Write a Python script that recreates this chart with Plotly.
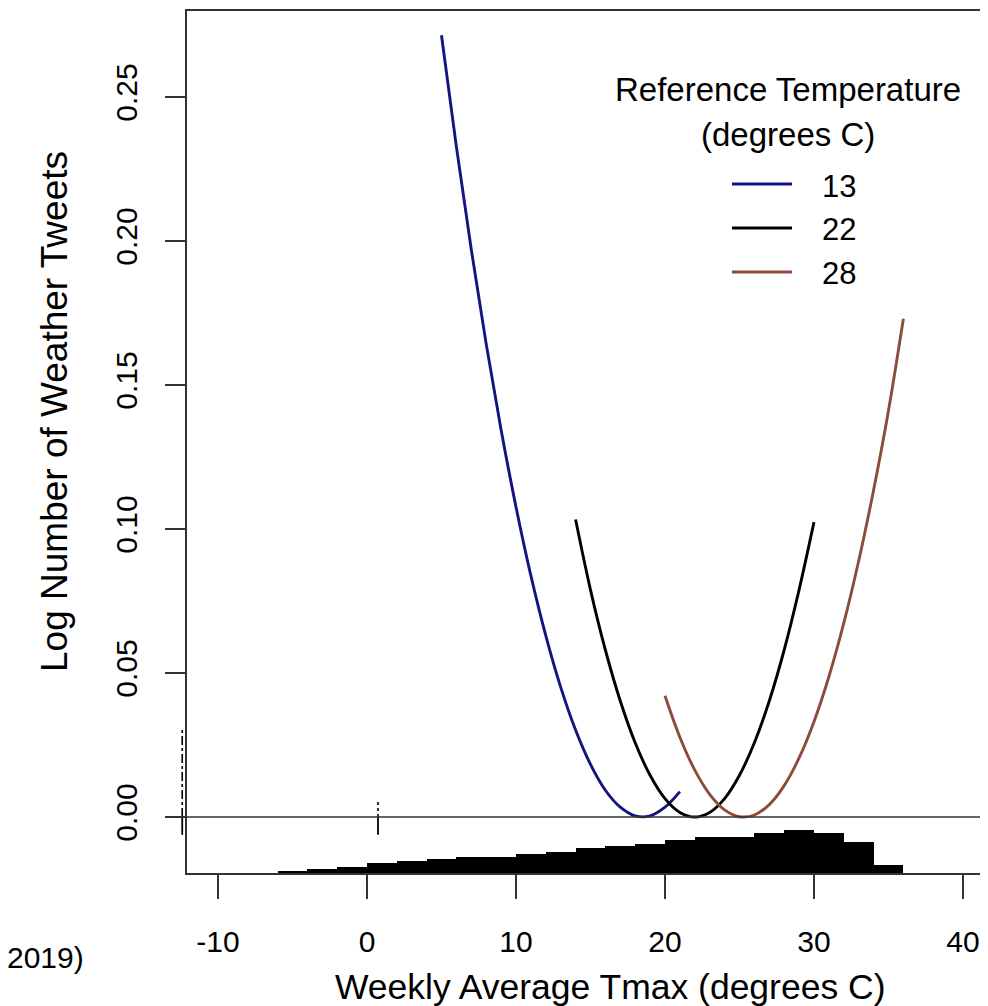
import plotly.graph_objects as go

# ---------------- data ----------------
x_ticks = [-10, 0, 10, 20, 30, 40]
y_ticks = [0.00, 0.05, 0.10, 0.15, 0.20, 0.25]
y_tick_text = ["0.00", "0.05", "0.10", "0.15", "0.20", "0.25"]

ref_temps = ["13", "22", "28"]
ref_colors = ["#14147e", "#000000", "#8b4c39"]

tmax_13 = [5, 6, 7, 8, 9, 10, 11, 12, 13, 14, 15, 16, 17, 18, 19, 20, 21]
tweets_13 = [0.2715, 0.2328, 0.1971, 0.1643, 0.1345, 0.1077, 0.0838, 0.0630, 0.0451,
             0.0302, 0.0183, 0.0093, 0.0034, 0.0004, 0.0004, 0.0034, 0.0088]

tmax_22 = [14, 15, 16, 17, 18, 19, 20, 21, 22, 23, 24, 25, 26, 27, 28, 29, 30]
tweets_22 = [0.1033, 0.0789, 0.0580, 0.0403, 0.0258, 0.0145, 0.0064, 0.0016, 0.0000,
             0.0016, 0.0064, 0.0145, 0.0258, 0.0403, 0.0580, 0.0789, 0.1024]

tmax_28 = [20, 21, 22, 23, 24, 25, 26, 27, 28, 29, 30, 31, 32, 33, 34, 35, 36]
tweets_28 = [0.0421, 0.0277, 0.0163, 0.0079, 0.0025, 0.0001, 0.0007, 0.0043, 0.0109,
             0.0205, 0.0331, 0.0487, 0.0673, 0.0889, 0.1135, 0.1411, 0.1730]

hist_bin_centers = [-5, -3, -1, 1, 3, 5, 7, 9, 11, 13, 15, 17, 19, 21, 23, 25, 27, 29, 31, 33, 35]
hist_counts = [2, 4, 6, 10, 12, 14, 15.6, 15.6, 19.3, 21.3, 25, 26.6, 29, 32.6,
               36, 36, 40, 43.3, 40, 30.6, 7.6]

rug_x = [-12.4, 0.74]

x_title = "Weekly Average Tmax (degrees C)"
y_title = "Log Number of Weather Tweets"
legend_title_lines = ["Reference Temperature", "(degrees C)"]
caption_fragment = "2019)"

FONT = "Liberation Sans, Arial, sans-serif"
X_RANGE = [-12.08, 41.68]
Y_RANGE = [-0.01944, 0.2799]
AX = "#333333"

# the page body has an 8px default margin, so the figure is 8px smaller than the window
FIG_W, FIG_H = 980, 998
PLOT_W, PLOT_H = 801, 862


def xpaper(v):
    return (v - X_RANGE[0]) / (X_RANGE[1] - X_RANGE[0])


def px_x(p):   # window pixel -> paper x
    return (p - 187) / PLOT_W


def px_y(p):   # window pixel -> paper y
    return (873 - p) / PLOT_H


# ---------------- figure ----------------
fig = go.Figure()

# histogram of observed weekly Tmax (drawn at the bottom of the panel)
fig.add_trace(go.Bar(
    x=hist_bin_centers, y=hist_counts, width=2, yaxis="y2",
    marker=dict(color="black", line=dict(width=0)), showlegend=False,
))

series = [(tmax_13, tweets_13), (tmax_22, tweets_22), (tmax_28, tweets_28)]
for (xs, ys), name, col in zip(series, ref_temps, ref_colors):
    fig.add_trace(go.Scatter(
        x=xs, y=ys, mode="lines", name=name,
        line=dict(color=col, width=2.9, shape="spline", smoothing=1.0),
        showlegend=False,
    ))

# small rug-like marks near the zero line
fig.add_shape(type="line", xref="paper", yref="y", x0=xpaper(rug_x[0]), x1=xpaper(rug_x[0]),
              y0=0.0, y1=0.0313, line=dict(color="black", width=1.6, dash="dashdot"))
fig.add_shape(type="line", xref="paper", yref="y", x0=xpaper(rug_x[1]), x1=xpaper(rug_x[1]),
              y0=0.0, y1=0.0055, line=dict(color="black", width=1.6, dash="dot"))
for rx in rug_x:
    fig.add_shape(type="line", xref="paper", yref="y", x0=xpaper(rx), x1=xpaper(rx),
                  y0=0.0, y1=-0.0062, line=dict(color="black", width=1.8))

# horizontal zero line (extends slightly left of the panel)
fig.add_shape(type="line", xref="paper", yref="y", x0=px_x(167), x1=1.0, y0=0, y1=0,
              line=dict(color=AX, width=1.6))

# manual legend
leg_y = [184, 228, 272]
for name, col, ly in zip(ref_temps, ref_colors, leg_y):
    fig.add_shape(type="line", xref="paper", yref="paper", x0=px_x(732), x1=px_x(792),
                  y0=px_y(ly), y1=px_y(ly), line=dict(color=col, width=2.9))
    fig.add_annotation(xref="paper", yref="paper", x=px_x(820), y=px_y(ly + 2), text=name,
                       showarrow=False, xanchor="left", yanchor="middle",
                       font=dict(family=FONT, size=31, color="black"))
for line_text, ly in zip(legend_title_lines, [89, 135]):
    fig.add_annotation(xref="paper", yref="paper", x=px_x(788), y=px_y(ly), text=line_text,
                       showarrow=False, xanchor="center", yanchor="middle",
                       font=dict(family=FONT, size=33, color="black"))

# axis titles
fig.add_annotation(xref="paper", yref="paper", x=px_x(610), y=px_y(987), text=x_title,
                   showarrow=False, xanchor="center", yanchor="middle",
                   font=dict(family=FONT, size=35.5, color="black"))
fig.add_annotation(xref="paper", yref="paper", x=px_x(55), y=px_y(412), text=y_title,
                   showarrow=False, xanchor="center", yanchor="middle", textangle=-90,
                   font=dict(family=FONT, size=37, color="black"))

# caption remnant at bottom-left
fig.add_annotation(xref="paper", yref="paper", x=px_x(86), y=px_y(958),
                   text=caption_fragment, showarrow=False, xanchor="right", yanchor="middle",
                   font=dict(family=FONT, size=30, color="black"))

fig.update_layout(
    width=FIG_W, height=FIG_H,
    margin=dict(l=179, r=0, t=3, b=FIG_H - 3 - PLOT_H, pad=0, autoexpand=False),
    paper_bgcolor="white", plot_bgcolor="white",
    font=dict(family=FONT, color="black"),
    bargap=0,
    xaxis=dict(
        range=X_RANGE, tickvals=x_ticks, ticktext=[str(v) for v in x_ticks],
        ticks="outside", ticklen=24, tickwidth=1.6, tickcolor=AX,
        showline=True, linecolor=AX, linewidth=1.6, mirror=True,
        showgrid=False, zeroline=False,
        tickfont=dict(family=FONT, size=30, color="black"),
        ticklabelstandoff=17,
    ),
    yaxis=dict(
        range=Y_RANGE, tickvals=y_ticks, ticktext=y_tick_text,
        ticks="outside", ticklen=20, tickwidth=1.6, tickcolor=AX,
        showline=True, linecolor=AX, linewidth=1.6, mirror=False,
        showgrid=False, zeroline=False, tickangle=-90,
        tickfont=dict(family=FONT, size=30, color="black"),
        ticklabelstandoff=16,
    ),
    yaxis2=dict(range=[0, 862], overlaying="y", visible=False, fixedrange=True),
)

fig.write_html("out.html")
